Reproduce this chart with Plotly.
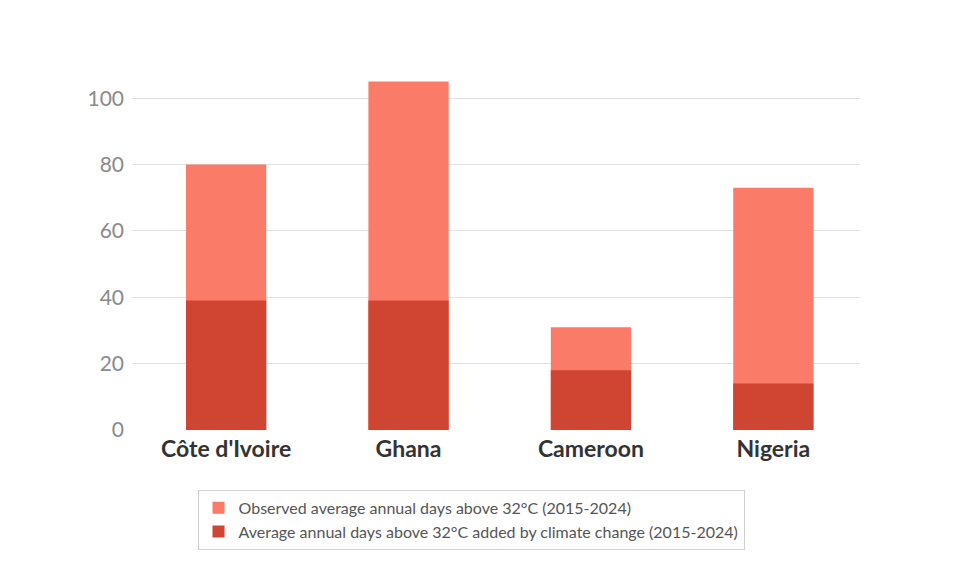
import plotly.graph_objects as go

countries = ["Côte d'Ivoire", "Ghana", "Cameroon", "Nigeria"]
observed = [80, 105, 31, 73]
added = [39, 39, 18, 14]
name_observed = "Observed average annual days above 32°C (2015-2024)"
name_added = "Average annual days above 32°C added by climate change (2015-2024)"
y_ticks = [0, 20, 40, 60, 80, 100]

fig = go.Figure()
fig.add_trace(go.Bar(x=countries, y=observed, name=name_observed,
                     marker=dict(color="#FA7B67", line=dict(width=0))))
fig.add_trace(go.Bar(x=countries, y=added, name=name_added,
                     marker=dict(color="#D04432", line=dict(width=0))))

fig.update_layout(
    width=960, height=584,
    barmode="overlay", bargap=0.56,
    paper_bgcolor="white", plot_bgcolor="white",
    margin=dict(l=124, r=108, t=57, b=162),
    font=dict(family="Lato", color="#555555"),
    showlegend=True,
    legend=dict(
        x=0.09, y=-0.164, xanchor="left", yanchor="top",
        bordercolor="#CFCFCF", borderwidth=1,
        font=dict(size=16, color="#555555", family="Lato"),
        traceorder="normal", tracegroupgap=0,
        itemwidth=30,
    ),
)
fig.update_xaxes(
    range=[-0.516, 3.475], showgrid=False, zeroline=False, showline=False,
    ticks="", tickfont=dict(size=23, color="#333333", family="Lato", weight="bold"),
    ticklabelstandoff=3,
)
fig.update_yaxes(
    range=[0, 110], tickvals=y_ticks, showgrid=True, gridcolor="#E0E0E0",
    gridwidth=1, zeroline=False, showline=False, ticks="",
    tickfont=dict(size=21, color="#8A8A8A", family="Lato"),
    ticklabelstandoff=7,
)
fig.write_html("out.html")
